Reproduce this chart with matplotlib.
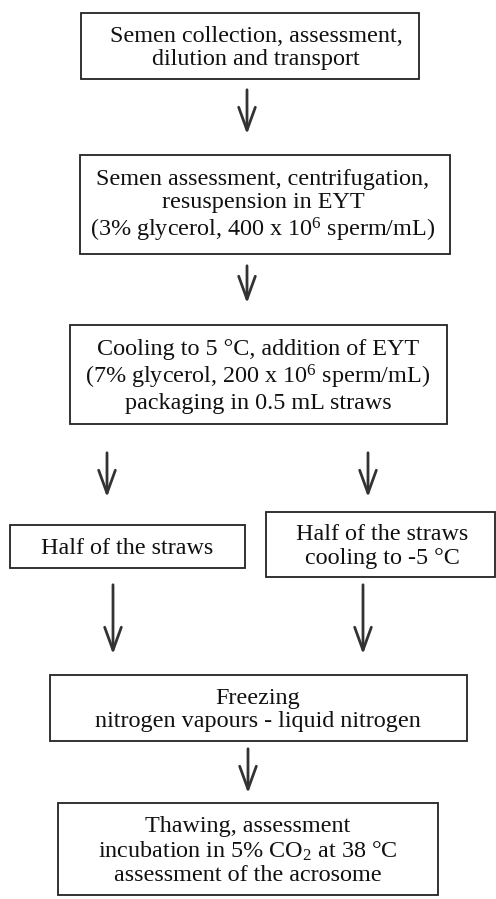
import matplotlib.pyplot as plt
from matplotlib.patches import Rectangle

plt.rcParams['font.family'] = 'Liberation Serif'
plt.rcParams['mathtext.fontset'] = 'custom'
plt.rcParams['mathtext.rm'] = 'Liberation Serif'
plt.rcParams['mathtext.it'] = 'Liberation Serif'

# box labels of the flowchart
labels = [
    "Semen collection, assessment,\ndilution and transport",
    "Semen assessment, centrifugation,\nresuspension in EYT\n(3% glycerol, 400 x 10$^{6}$ sperm/mL)",
    "Cooling to 5 °C, addition of EYT\n(7% glycerol, 200 x 10$^{6}$ sperm/mL)\npackaging in 0.5 mL straws",
    "Half of the straws",
    "Half of the straws\ncooling to -5 °C",
    "Freezing\nnitrogen vapours - liquid nitrogen",
    "Thawing, assessment\nincubation in 5% CO$_{2}$ at 38 °C\nassessment of the acrosome",
]

# layout in pixels: left, top, right, bottom
boxes = [
    (81, 13, 419, 79),
    (80, 155, 450, 254),
    (70, 325, 447, 424),
    (10, 525, 245, 568),
    (266, 512, 495, 577),
    (50, 675, 467, 741),
    (58, 803, 438, 895),
]
# text centre x for each box
text_x = [256, 263, 258, 127, 382, 258, 248]

# arrows: x, y start, y end
arrows = [
    (247, 87, 137),
    (247, 263, 306),
    (107, 450, 500),
    (368, 450, 500),
    (113, 582, 657),
    (363, 582, 657),
    (248, 746, 796),
]

fig = plt.figure(figsize=(4.96, 8.99), dpi=100)
ax = fig.add_axes([0, 0, 1, 1])
ax.set_xlim(0, 496)
ax.set_ylim(899, 0)
ax.axis("off")

for (l, t, r, b), tx, txt in zip(boxes, text_x, labels):
    ax.add_patch(Rectangle((l, t), r - l, b - t, fill=False, edgecolor="#222222", linewidth=1.3))
    ax.text(tx, (t + b) / 2 + 2, txt, ha="center", va="center",
            fontsize=17.4, linespacing=1.15, color="#111111")

for x, y0, y1 in arrows:
    ax.annotate("", xy=(x, y1), xytext=(x, y0),
                arrowprops=dict(arrowstyle="->,head_length=1.65,head_width=0.6",
                                color="#333333", linewidth=2))

fig.savefig("out.png", dpi=100)
